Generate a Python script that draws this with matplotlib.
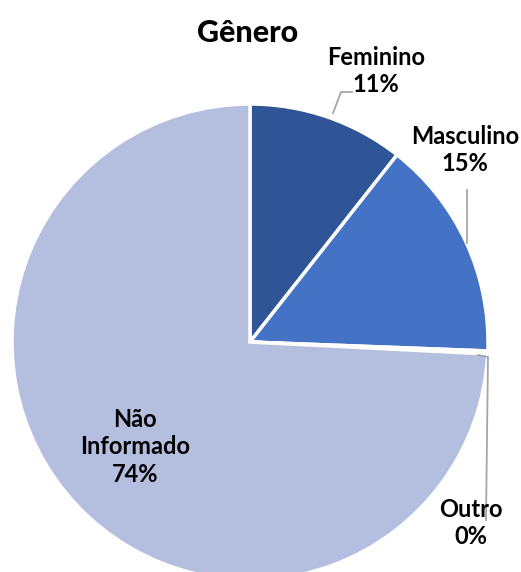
import matplotlib.pyplot as plt

plt.rcParams['font.family'] = ['Lato', 'DejaVu Sans']

# Data
categories = ["Feminino", "Masculino", "Outro", "Não\nInformado"]
shares = [10.6, 15.0, 0.2, 74.2]
colors = ["#2F5597", "#4472C4", "#A5A5A5", "#B4BFDF"]

W, H = 521, 572
CX, CY, R = 250, 342, 238


def to_data(px, py):
    # pixel position in the picture -> pie data units
    return (px - CX) / R, (CY - py) / R


fig = plt.figure(figsize=(W / 100, H / 100), dpi=100)
ax = fig.add_axes([(CX - R) / W, (H - CY - R) / H, 2 * R / W, 2 * R / H])

ax.pie(
    shares,
    colors=colors,
    startangle=90,
    counterclock=False,
    radius=1.0,
    wedgeprops=dict(edgecolor="white", linewidth=2.5),
)
ax.set_xlim(-1, 1)
ax.set_ylim(-1, 1)
ax.set_aspect("equal")
ax.axis("off")

fig.text(248 / W, 1 - 33 / H, "Gênero", ha="center", va="center",
         fontsize=22, fontweight="black")

# Label positions in pixels (text centre)
label_pos = [(376, 71), (465, 150), (471, 523), (135, 447)]
for name, val, (px, py) in zip(categories, shares, label_pos):
    x, y = to_data(px, py)
    ax.text(x, y, f"{name}\n{round(val):.0f}%", ha="center", va="center",
            fontsize=17, fontweight="bold", linespacing=1.25, color="black")

# Leader lines
leader_col = "#A6A6A6"
fx = [to_data(p, q) for p, q in [(333, 113), (341, 92), (352, 92)]]
ax.plot([p[0] for p in fx], [p[1] for p in fx], color=leader_col, lw=1.3,
        clip_on=False)
mx = [to_data(p, q) for p, q in [(467, 190), (467, 243)]]
ax.plot([p[0] for p in mx], [p[1] for p in mx], color=leader_col, lw=1.3,
        clip_on=False)
ox = [to_data(p, q) for p, q in [(478, 355), (488, 357), (486, 520)]]
ax.plot([p[0] for p in ox], [p[1] for p in ox], color=leader_col, lw=1.3,
        clip_on=False)

fig.savefig("out.png", dpi=100)
